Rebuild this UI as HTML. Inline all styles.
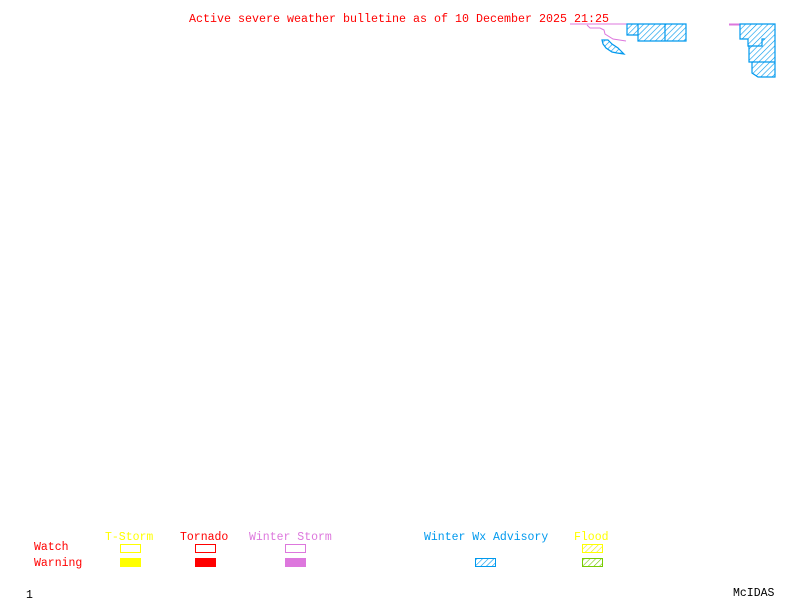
<!DOCTYPE html>
<html><head><style>
html,body{margin:0;padding:0;background:#fff;width:800px;height:600px;overflow:hidden}
svg{display:block}
text{font-family:"Liberation Mono",monospace;font-size:11.5px}
</style></head><body>
<svg width="800" height="600" viewBox="0 0 800 600" xmlns="http://www.w3.org/2000/svg">
<defs>
<pattern id="hb" width="4" height="4" patternUnits="userSpaceOnUse" patternTransform="rotate(45)"><rect width="4" height="4" fill="#fff"/><line x1="0" y1="0" x2="0" y2="4" stroke="#0099ee" stroke-width="1.2"/></pattern>
<pattern id="hy" width="4" height="4" patternUnits="userSpaceOnUse" patternTransform="rotate(45)"><rect width="4" height="4" fill="#fff"/><line x1="0" y1="0" x2="0" y2="4" stroke="#eeee00" stroke-width="1.2"/></pattern>
<pattern id="hg" width="4" height="4" patternUnits="userSpaceOnUse" patternTransform="rotate(45)"><rect width="4" height="4" fill="#fff"/><line x1="0" y1="0" x2="0" y2="4" stroke="#77cc00" stroke-width="1.2"/></pattern>
</defs>
<text x="189" y="22" fill="#ff0000" textLength="420" lengthAdjust="spacingAndGlyphs">Active severe weather bulletine as of 10 December 2025 21:25</text>
<g stroke="#dd77dd" stroke-width="1" fill="none">
<polyline points="570,24 627,24"/>
<polyline points="587,25 590,28 600,28 604,30 605,34 613,39 626,41"/>
<line x1="729" y1="24.5" x2="740" y2="24.5" stroke-width="2"/>
</g>
<g stroke="#0099ee" stroke-width="1.2" fill="url(#hb)">
<polygon points="627,24 686,24 686,41 638,41 638,35 627,35"/>
<line x1="665" y1="24" x2="665" y2="41"/>
<line x1="638" y1="35" x2="638" y2="24"/>
<polygon points="602,40 608,40 612,44 618,48 620,50 624,54 617,53 612,52 606,48 603,44"/>
<polygon points="740,24 775,24 775,77 758,77 752,73 752,62 749,62 749,46 748,46 748,39 740,39"/>
<polyline fill="none" points="748,46 762,46 762,39 765,39"/>
<polyline fill="none" points="752,62 767,62 775,62"/>
</g>
<text x="105" y="540" fill="#ffff00">T-Storm</text>
<text x="180" y="540" fill="#ff0000">Tornado</text>
<text x="249" y="540" fill="#dd77dd">Winter Storm</text>
<text x="424" y="540" fill="#0099ee">Winter Wx Advisory</text>
<text x="574" y="540" fill="#ffff00">Flood</text>
<text x="34" y="550" fill="#ff0000">Watch</text>
<text x="34" y="566" fill="#ff0000">Warning</text>
<rect x="120.5" y="544.5" width="20" height="8" fill="none" stroke="#ffff00"/>
<rect x="195.5" y="544.5" width="20" height="8" fill="none" stroke="#ff0000"/>
<rect x="285.5" y="544.5" width="20" height="8" fill="none" stroke="#dd77dd"/>
<rect x="582.5" y="544.5" width="20" height="8" fill="url(#hy)" stroke="#ffff00"/>
<rect x="120" y="558" width="21" height="9" fill="#ffff00"/>
<rect x="195" y="558" width="21" height="9" fill="#ff0000"/>
<rect x="285" y="558" width="21" height="9" fill="#dd77dd"/>
<rect x="475.5" y="558.5" width="20" height="8" fill="url(#hb)" stroke="#0099ee"/>
<rect x="582.5" y="558.5" width="20" height="8" fill="url(#hg)" stroke="#77cc00"/>
<text x="26" y="598" fill="#000">1</text>
<text x="733" y="596" fill="#000">McIDAS</text>
</svg>
</body></html>
